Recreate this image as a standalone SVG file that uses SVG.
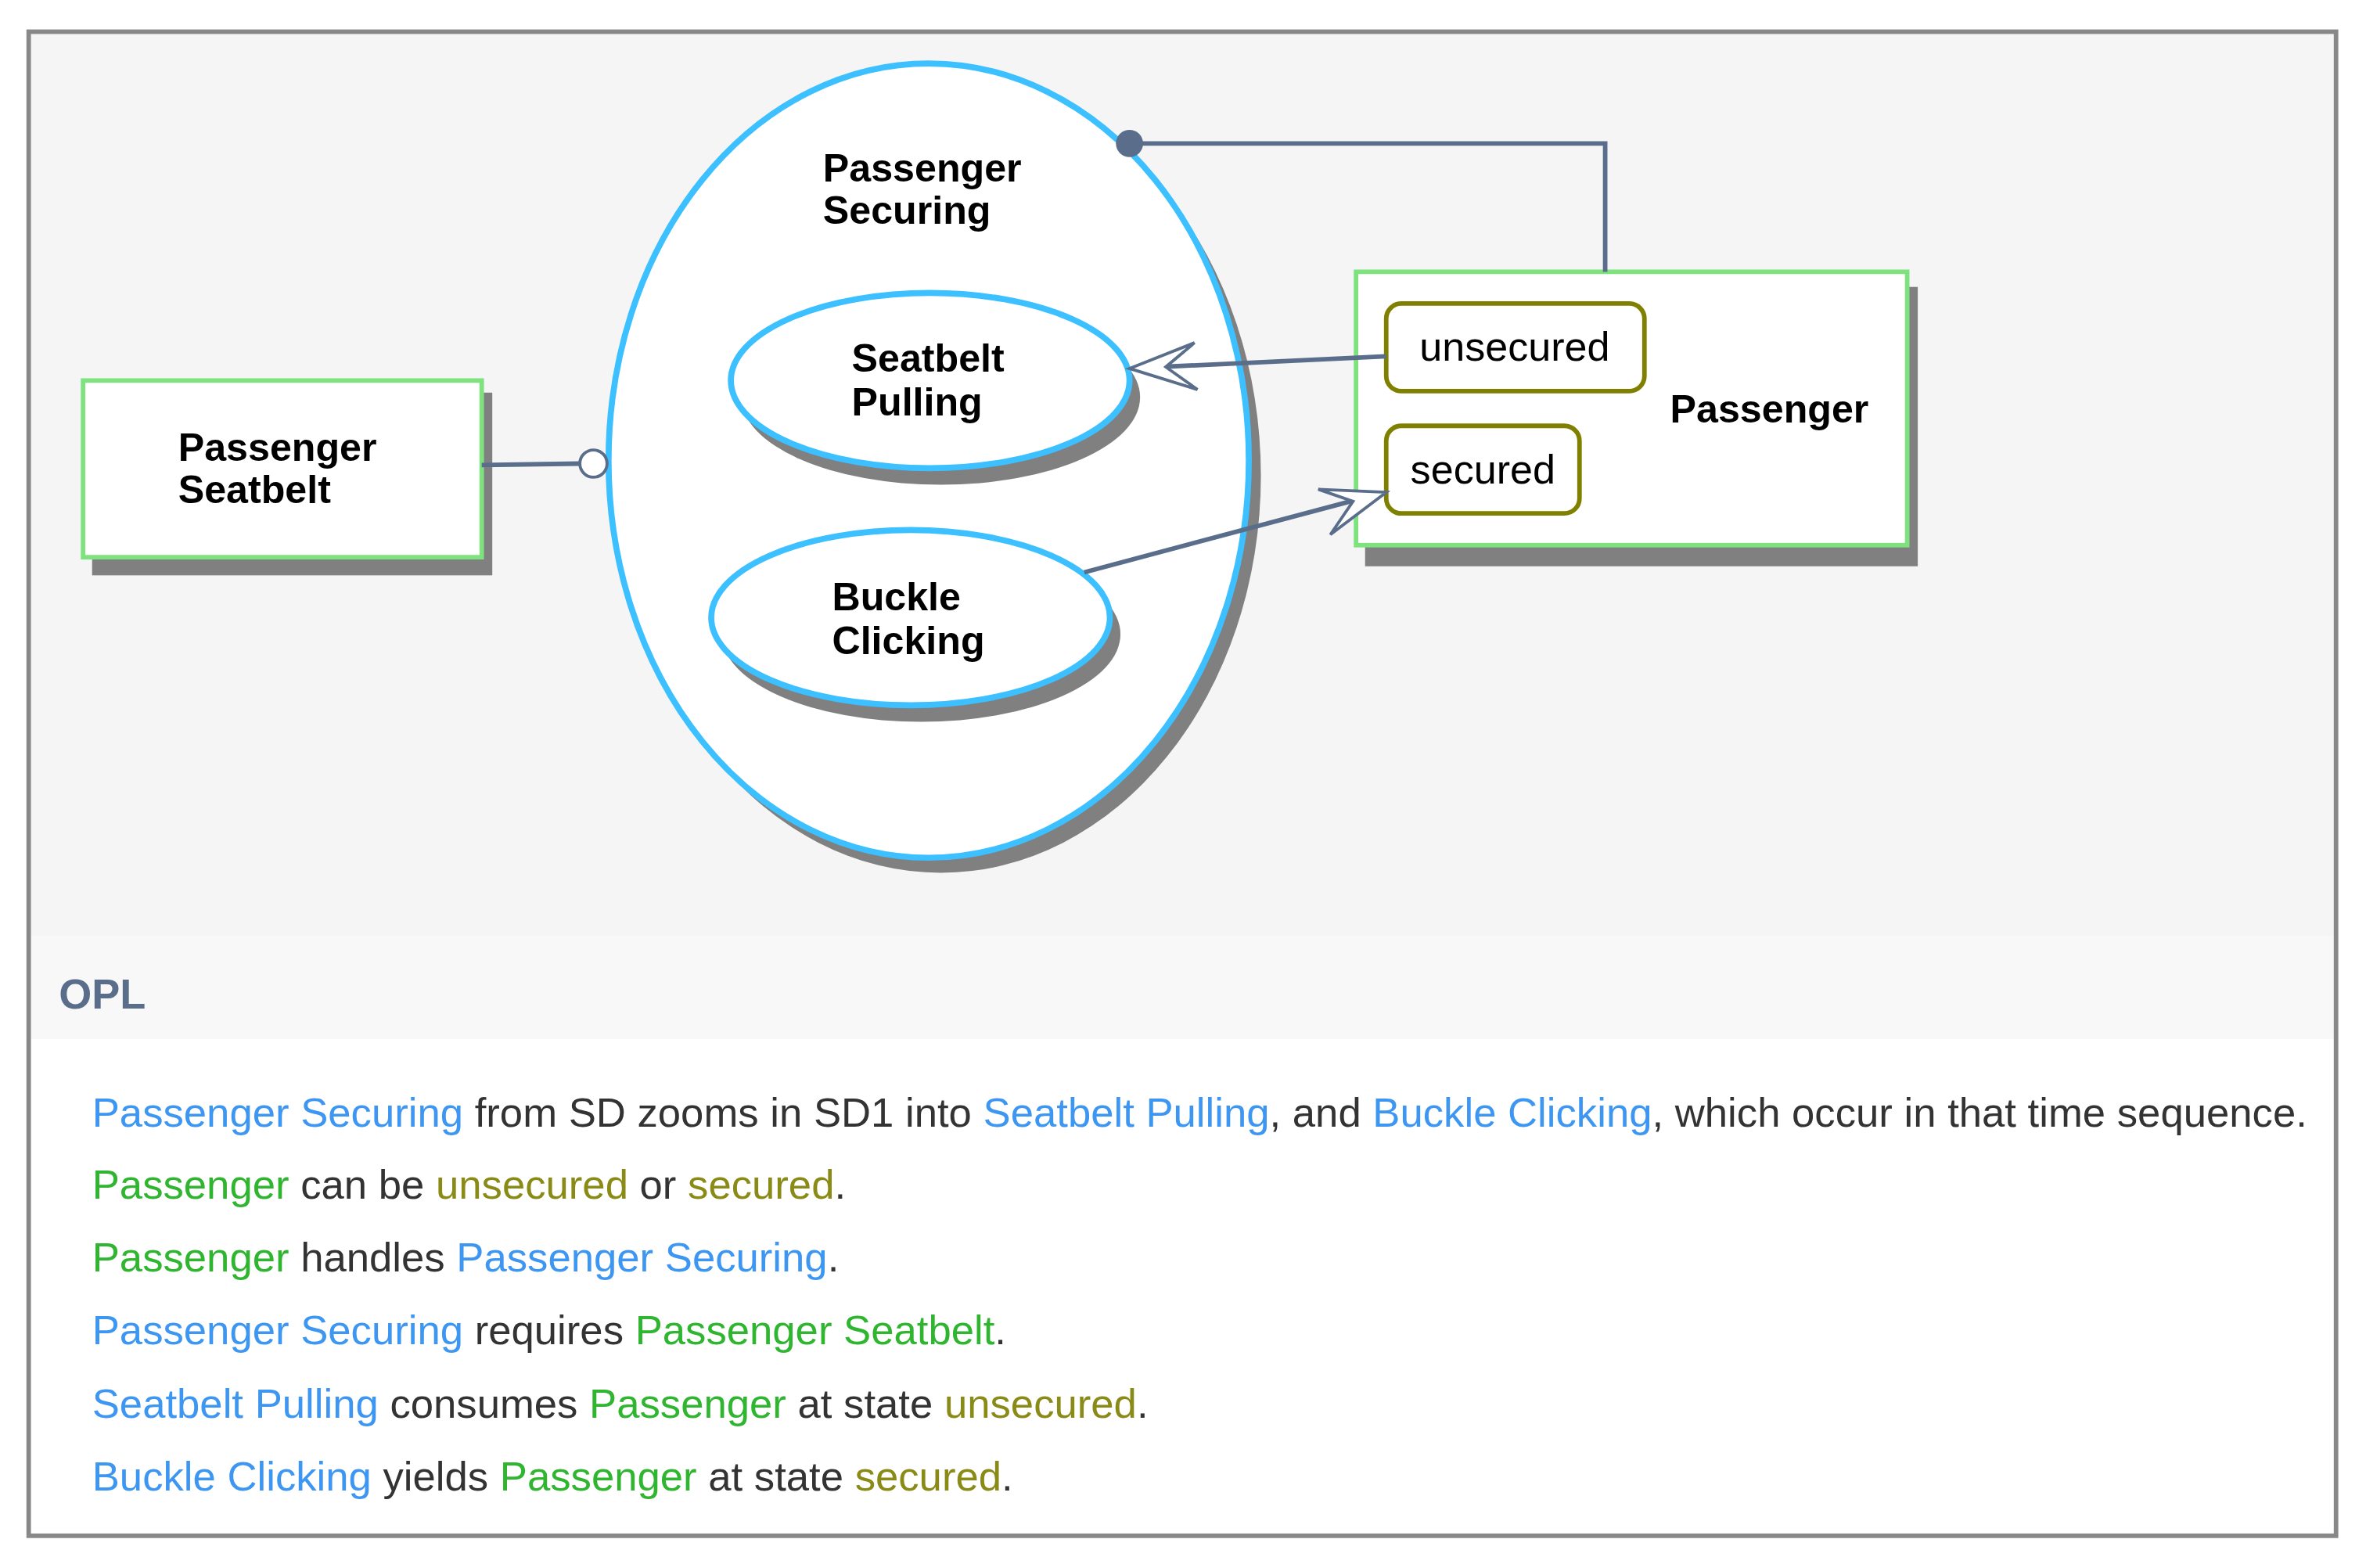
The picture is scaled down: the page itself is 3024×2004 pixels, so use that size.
<svg xmlns="http://www.w3.org/2000/svg" width="3024" height="2004" viewBox="0 0 3024 2004">
<defs>
<style>
.lbl{font-family:"Liberation Sans",Arial,sans-serif;font-weight:bold;font-size:26px;fill:#000}
.st{font-family:"Liberation Sans",Arial,sans-serif;font-size:27px;fill:#000}
.opl{font-family:"Liberation Sans",Arial,sans-serif;font-size:27.3px;fill:#333}
.b{fill:#3d97f2}.g{fill:#2fb52f}.o{fill:#8a8a16}
.obj{fill:#fff;stroke:#7ee37e;stroke-width:3}
.proc{fill:#fff;stroke:#3cc0ff;stroke-width:4}
.state{fill:#fff;stroke:#808000;stroke-width:3}
.sh{fill:#808080}
.ln{stroke:#5a6e8c;stroke-width:3;fill:none}
</style>
</defs>
<rect x="0" y="0" width="3024" height="2004" fill="#fff"/>
<g transform="scale(1.93)">
<rect x="19" y="21" width="1528" height="599" fill="#f5f5f5"/>
<rect x="19" y="620" width="1528" height="68" fill="#f8f8f8"/>
<rect x="19" y="21" width="1528" height="996" fill="none" stroke="#888" stroke-width="3"/>

<g id="passenger-securing">
<ellipse class="sh" cx="623" cy="315" rx="212" ry="263"/>
<ellipse class="proc" cx="615" cy="305" rx="212" ry="263" stroke-width="5"/>
<text class="lbl" x="545" y="120">Passenger</text>
<text class="lbl" x="545" y="148">Securing</text>
</g>
<g id="seatbelt-pulling">
<ellipse class="sh" cx="623" cy="263" rx="132" ry="58"/>
<ellipse class="proc" cx="616" cy="252" rx="132" ry="58"/>
<text class="lbl" x="564" y="246">Seatbelt</text>
<text class="lbl" x="564" y="275">Pulling</text>
</g>
<g id="buckle-clicking">
<ellipse class="sh" cx="610" cy="420" rx="132" ry="58"/>
<ellipse class="proc" cx="603" cy="409" rx="132" ry="58"/>
<text class="lbl" x="551" y="404">Buckle</text>
<text class="lbl" x="551" y="433">Clicking</text>
</g>
<g id="passenger-seatbelt">
<rect class="sh" x="61" y="260" width="265" height="121"/>
<rect class="obj" x="55" y="252" width="264" height="117"/>
<text class="lbl" x="118" y="305">Passenger</text>
<text class="lbl" x="118" y="333">Seatbelt</text>
</g>
<g id="passenger">
<rect class="sh" x="904" y="190" width="366" height="185"/>
<rect class="obj" x="898" y="180" width="365" height="181"/>
<text class="lbl" x="1106" y="280">Passenger</text>
<g id="state-unsecured">
<rect class="state" x="918" y="201" width="171" height="58" rx="10"/>
<text class="st" x="940" y="239">unsecured</text>
</g>
<g id="state-secured">
<rect class="state" x="918" y="282" width="128" height="58" rx="10"/>
<text class="st" x="934" y="320">secured</text>
</g>
</g>

<g id="connectors">
<polyline class="ln" points="748,95 1063,95 1063,180"/>
<circle cx="748" cy="95" r="9" fill="#5a6e8c"/>
<line class="ln" x1="319" y1="308" x2="384" y2="307"/>
<circle cx="393" cy="307" r="9" fill="#fff" stroke="#5a6e8c" stroke-width="2"/>
<line class="ln" x1="918" y1="236" x2="768" y2="243"/>
<path d="M748,244 L791,227 L772,243 L793,258 Z" fill="#fff" stroke="#5a6e8c" stroke-width="2"/>
<line class="ln" x1="718" y1="379" x2="898" y2="331"/>
<path d="M918,326 L873,324 L896,332 L881,354 Z" fill="#fff" stroke="#5a6e8c" stroke-width="2"/>
</g>

<g id="opl">
<text x="39" y="668" font-family="Liberation Sans,Arial,sans-serif" font-weight="bold" font-size="28" fill="#5a6e8c">OPL</text>
<text class="opl" x="61" y="746"><tspan class="b">Passenger Securing</tspan> from SD zooms in SD1 into <tspan class="b">Seatbelt Pulling</tspan>, and <tspan class="b">Buckle Clicking</tspan>, which occur in that time sequence.</text>
<text class="opl" x="61" y="794"><tspan class="g">Passenger</tspan> can be <tspan class="o">unsecured</tspan> or <tspan class="o">secured</tspan>.</text>
<text class="opl" x="61" y="842"><tspan class="g">Passenger</tspan> handles <tspan class="b">Passenger Securing</tspan>.</text>
<text class="opl" x="61" y="890"><tspan class="b">Passenger Securing</tspan> requires <tspan class="g">Passenger Seatbelt</tspan>.</text>
<text class="opl" x="61" y="939"><tspan class="b">Seatbelt Pulling</tspan> consumes <tspan class="g">Passenger</tspan> at state <tspan class="o">unsecured</tspan>.</text>
<text class="opl" x="61" y="987"><tspan class="b">Buckle Clicking</tspan> yields <tspan class="g">Passenger</tspan> at state <tspan class="o">secured</tspan>.</text>
</g>
</g>
</svg>
